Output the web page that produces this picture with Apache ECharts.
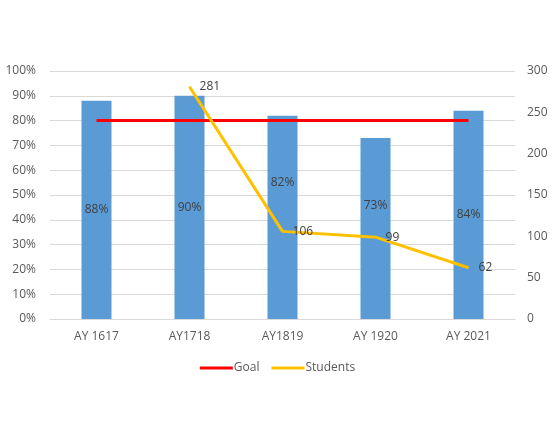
<!DOCTYPE html>
<html>
<head>
<meta charset="utf-8">
<script src="https://cdn.jsdelivr.net/npm/echarts@6/dist/echarts.min.js"></script>
<style>
  html, body { margin: 0; padding: 0; background: #fff; }
  #chart { width: 555px; height: 444px; }
</style>
</head>
<body>
<div id="chart"></div>
<script>
// data
var years = ['AY 1617', 'AY1718', 'AY1819', 'AY 1920', 'AY 2021'];
var rates = [88, 90, 82, 73, 84];
var goal = [80, 80, 80, 80, 80];
var students = [null, 281, 106, 99, 62];

// bar labels that were nudged up in the original
var labelShift = [0, 0, -35, -23, 0];

var chart = echarts.init(document.getElementById('chart'));
var font = 'Open Sans, sans-serif';

var barData = rates.map(function (v, i) {
  return { value: v, label: { offset: [0, labelShift[i]] } };
});

chart.setOption({
  animation: false,
  textStyle: { fontFamily: font },
  grid: { left: 50, right: 40, top: 71, bottom: 125 },
  legend: {
    bottom: 65,
    left: 'center',
    itemWidth: 33,
    itemHeight: 3,
    itemGap: 12,
    icon: 'rect',
    textStyle: { color: '#595959', fontSize: 12, fontFamily: font, padding: [0, 0, 0, -4] },
    data: ['Goal', 'Students']
  },
  xAxis: {
    type: 'category',
    data: years,
    axisLine: { lineStyle: { color: '#d9d9d9' } },
    axisTick: { show: false },
    axisLabel: { color: '#595959', fontSize: 12, margin: 12 }
  },
  yAxis: [
    {
      type: 'value',
      min: 0,
      max: 100,
      interval: 10,
      axisLabel: { formatter: '{value}%', color: '#595959', fontSize: 12, margin: 14 },
      splitLine: { lineStyle: { color: '#d9d9d9' } },
      axisLine: { show: false },
      axisTick: { show: false }
    },
    {
      type: 'value',
      min: 0,
      max: 300,
      interval: 50,
      axisLabel: { color: '#595959', fontSize: 12, margin: 12 },
      splitLine: { show: false },
      axisLine: { show: false },
      axisTick: { show: false }
    }
  ],
  series: [
    {
      name: 'Rate',
      type: 'bar',
      data: barData,
      barWidth: 30,
      itemStyle: { color: '#5b9bd5' },
      z: 2,
      label: {
        show: true,
        position: 'inside',
        formatter: '{c}%',
        color: '#404040',
        fontSize: 12
      }
    },
    {
      name: 'Goal',
      type: 'line',
      data: goal,
      symbol: 'none',
      z: 3,
      lineStyle: { color: '#ff0000', width: 3 },
      itemStyle: { color: '#ff0000' }
    },
    {
      name: 'Students',
      type: 'line',
      yAxisIndex: 1,
      data: students,
      symbol: 'circle',
      symbolSize: 0.1,
      showSymbol: true,
      z: 4,
      lineStyle: { color: '#ffc000', width: 3 },
      itemStyle: { color: '#ffc000' },
      label: {
        show: true,
        position: 'right',
        distance: 10,
        color: '#404040',
        fontSize: 12
      }
    }
  ]
});
</script>
</body>
</html>
